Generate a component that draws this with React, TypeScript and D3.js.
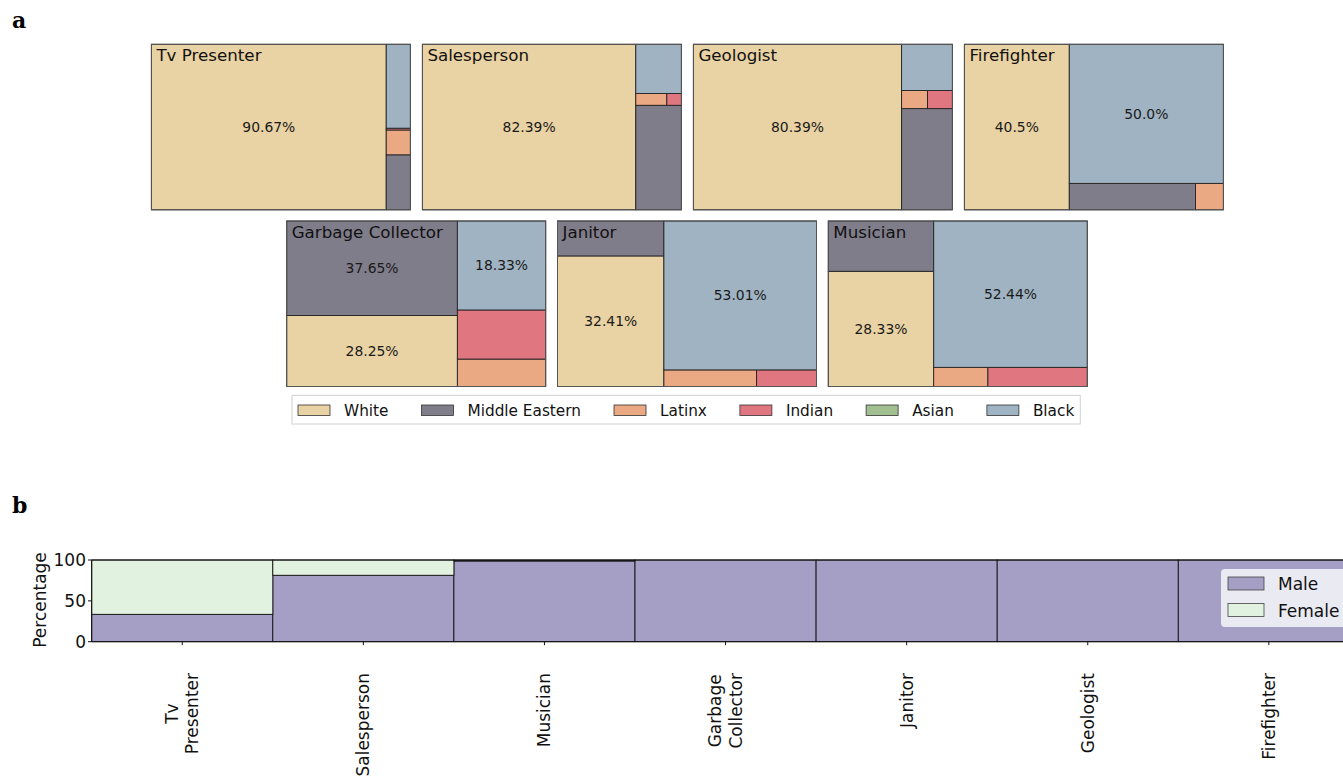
import React from "react";
import * as d3 from "d3";

// ---- data ----
const races = ["White", "Middle Eastern", "Latinx", "Indian", "Asian", "Black"];
const raceColors = ["#E9D2A3", "#807D8B", "#EAA883", "#E07780", "#A2BF92", "#9FB3C2"];

const topJobs = ["Tv Presenter", "Salesperson", "Geologist", "Firefighter", "Garbage Collector", "Janitor", "Musician"];
// shares per race, same order as `races`
const tvPresenter = [90.67, 3.1, 1.4, 0.1, 0, 4.73];
const salesperson = [82.39, 11.12, 0.85, 0.4, 0, 5.24];
const geologist = [80.39, 11.99, 1.09, 1.05, 0, 5.48];
const firefighter = [40.5, 7.78, 1.72, 0, 0, 50.0];
const garbageCollector = [28.25, 37.65, 5.65, 10.12, 0, 18.33];
const janitor = [32.41, 8.67, 3.59, 2.32, 0, 53.01];
const musician = [28.33, 12.37, 2.42, 4.44, 0, 52.44];
const topShares = [tvPresenter, salesperson, geologist, firefighter, garbageCollector, janitor, musician];

const genderJobs = ["Tv Presenter", "Salesperson", "Musician", "Garbage Collector", "Janitor", "Geologist", "Firefighter"];
const genderTicks = [["Tv", "Presenter"], ["Salesperson"], ["Musician"], ["Garbage", "Collector"], ["Janitor"], ["Geologist"], ["Firefighter"]];
const malePct = [33.5, 81.3, 98.8, 100, 100, 100, 100];
const femalePct = [66.5, 18.7, 1.2, 0, 0, 0, 0];
const genders = ["Male", "Female"];
const genderColors = ["#A59EC5", "#E2F2E0"];

const FONT = "DejaVu Sans";

// ---- squarify (same steps as the python package) ----
type Rect = { x: number; y: number; dx: number; dy: number };
const sum = (a: number[]) => a.reduce((s, v) => s + v, 0);

function layoutRow(sizes: number[], x: number, y: number, dx: number, dy: number): Rect[] {
  const width = sum(sizes) / dy;
  return sizes.map(s => { const r = { x, y, dx: width, dy: s / width }; y += s / width; return r; });
}
function layoutCol(sizes: number[], x: number, y: number, dx: number, dy: number): Rect[] {
  const height = sum(sizes) / dx;
  return sizes.map(s => { const r = { x, y, dx: s / height, dy: height }; x += s / height; return r; });
}
const layout = (s: number[], x: number, y: number, dx: number, dy: number) =>
  dx >= dy ? layoutRow(s, x, y, dx, dy) : layoutCol(s, x, y, dx, dy);
function leftover(s: number[], x: number, y: number, dx: number, dy: number) {
  if (dx >= dy) { const w = sum(s) / dy; return [x + w, y, dx - w, dy]; }
  const h = sum(s) / dx; return [x, y + h, dx, dy - h];
}
const worst = (s: number[], x: number, y: number, dx: number, dy: number) =>
  d3.max(layout(s, x, y, dx, dy), r => Math.max(r.dx / r.dy, r.dy / r.dx)) as number;

function squarify(sizes: number[], x: number, y: number, dx: number, dy: number): Rect[] {
  if (sizes.length === 0) return [];
  if (sizes.length === 1) return layout(sizes, x, y, dx, dy);
  let i = 1;
  while (i < sizes.length && worst(sizes.slice(0, i), x, y, dx, dy) >= worst(sizes.slice(0, i + 1), x, y, dx, dy)) i++;
  const cur = sizes.slice(0, i);
  const [lx, ly, ldx, ldy] = leftover(cur, x, y, dx, dy);
  return layout(cur, x, y, dx, dy).concat(squarify(sizes.slice(i), lx, ly, ldx, ldy));
}

function measure(text: string, size: number) {
  const c = document.createElement("canvas").getContext("2d")!;
  c.font = `${size}px "${FONT}"`;
  return c.measureText(text).width;
}

const fmtPct = (v: number) => (Number.isInteger(v) ? v.toFixed(1) : String(v)) + "%";

function Treemap({ name, shares, left, top, w, h }: { name: string; shares: number[]; left: number; top: number; w: number; h: number }) {
  const items = shares.map((v, i) => ({ v, i })).filter(d => d.v > 0);
  const total = sum(items.map(d => d.v));
  const rects = squarify(items.map(d => (d.v * 10000) / total), 0, 0, 100, 100);
  const sx = d3.scaleLinear().domain([0, 100]).range([left, left + w]);
  const sy = d3.scaleLinear().domain([0, 100]).range([top + h, top]);
  return (
    <g>
      {rects.map((r, k) => {
        const d = items[k];
        const x0 = sx(r.x), x1 = sx(r.x + r.dx), y0 = sy(r.y + r.dy), y1 = sy(r.y);
        return (
          <g key={k}>
            <rect x={x0} y={y0} width={x1 - x0} height={y1 - y0} fill={raceColors[d.i]} stroke="#222" strokeWidth={0.9} />
            {d.v > 15 && (
              <text x={(x0 + x1) / 2} y={(y0 + y1) / 2} textAnchor="middle" dominantBaseline="central" fontSize={13.9} fill="#1a1a1a">
                {fmtPct(d.v)}
              </text>
            )}
          </g>
        );
      })}
      <rect x={left} y={top} width={w} height={h} fill="none" stroke="#555" strokeWidth={1} />
      <text x={left + 5} y={top + 16.5} fontSize={16.7} fill="#111">{name}</text>
    </g>
  );
}

export default function App() {
  const W = 1343, H = 783;
  const pw = 259, ph = 165.5;
  const panels = topJobs.map((name, i) => {
    const row = i < 4 ? 0 : 1;
    const col = row === 0 ? i : i - 4;
    const left = row === 0 ? 151.4 + col * 271 : 286.7 + col * 270.8;
    const top = row === 0 ? 44.3 : 221;
    return { name, shares: topShares[i], left, top };
  });

  // race legend
  const legFont = 15.3;
  let lx = 298;
  const legItems = races.map((r, i) => {
    const item = { r, i, x: lx };
    lx += 46 + measure(r, legFont) + 33;
    return item;
  });
  const legRight = lx - 33 + 6;

  // gender bars
  const x = d3.scaleBand().domain(genderJobs).range([91.7, 91.7 + 7 * 181.1]).padding(0);
  const y = d3.scaleLinear().domain([0, 100]).range([641.7, 560]);
  const stack = d3.stack<any>().keys(genders)(genderJobs.map((j, i) => ({ job: j, Male: malePct[i], Female: femalePct[i] })));
  const tickFs = 17;

  return (
    <svg width={W} height={H} style={{ position: "absolute", left: 0, top: 0, background: "#fff" }} fontFamily={FONT}>
      <text x={12} y={28} fontFamily="'DejaVu Serif', serif" fontWeight="bold" fontSize={22}>a</text>
      <text x={12} y={513} fontFamily="'DejaVu Serif', serif" fontWeight="bold" fontSize={22}>b</text>

      {panels.map(p => <Treemap key={p.name} name={p.name} shares={p.shares} left={p.left} top={p.top} w={pw} h={ph} />)}

      <rect x={292} y={395.3} width={legRight - 292} height={28.7} fill="#fff" stroke="#d0d0d0" strokeWidth={1} />
      {legItems.map(d => (
        <g key={d.r}>
          <rect x={d.x} y={405} width={32} height={10.5} fill={raceColors[d.i]} stroke="#333" strokeWidth={0.8} />
          <text x={d.x + 46} y={415.5} fontSize={legFont} fill="#111">{d.r}</text>
        </g>
      ))}

      {/* gender stacked bars */}
      {stack.map((s, si) => (
        <g key={s.key}>
          {s.map((d: any, k: number) => (
            <rect key={k} x={x(genderJobs[k])} y={y(d[1])} width={x.bandwidth()} height={y(d[0]) - y(d[1])}
              fill={genderColors[si]} stroke="#111" strokeWidth={0.9} />
          ))}
        </g>
      ))}
      <line x1={91.7} x2={W} y1={560} y2={560} stroke="#111" strokeWidth={1} />
      <line x1={91.7} x2={W} y1={641.7} y2={641.7} stroke="#111" strokeWidth={1} />
      <line x1={91.7} x2={91.7} y1={560} y2={641.7} stroke="#111" strokeWidth={1} />
      {[0, 50, 100].map(t => (
        <g key={t}>
          <line x1={88} x2={91.7} y1={y(t)} y2={y(t)} stroke="#111" />
          <text x={86} y={y(t)} textAnchor="end" dominantBaseline="central" fontSize={tickFs} fill="#111">{t}</text>
        </g>
      ))}
      <text transform={`translate(40,600) rotate(-90)`} textAnchor="middle" dominantBaseline="central" fontSize={tickFs} fill="#111">Percentage</text>
      {genderJobs.map((j, k) => {
        const cx = (x(j) as number) + x.bandwidth() / 2;
        const lines = genderTicks[k];
        const maxLen = d3.max(lines, l => measure(l, tickFs)) as number;
        return (
          <g key={j}>
            <line x1={cx} x2={cx} y1={641.7} y2={645.2} stroke="#111" />
            {lines.map((l, li) => {
              const lxp = cx + (li - (lines.length - 1) / 2) * 20.4;
              const ly = 673 + maxLen / 2;
              return (
                <text key={li} transform={`translate(${lxp},${ly}) rotate(-90)`} textAnchor="middle" dominantBaseline="central" fontSize={tickFs} fill="#111">{l}</text>
              );
            })}
          </g>
        );
      })}

      <rect x={1221} y={569} width={140} height={58} rx={4} fill="#EAEAF2" />
      {genders.map((g, i) => (
        <g key={g}>
          <rect x={1228} y={577 + i * 26.5} width={36} height={13} fill={genderColors[i]} stroke="#444" strokeWidth={0.8} />
          <text x={1278} y={590 + i * 26.5} fontSize={tickFs} fill="#111">{g}</text>
        </g>
      ))}
    </svg>
  );
}
